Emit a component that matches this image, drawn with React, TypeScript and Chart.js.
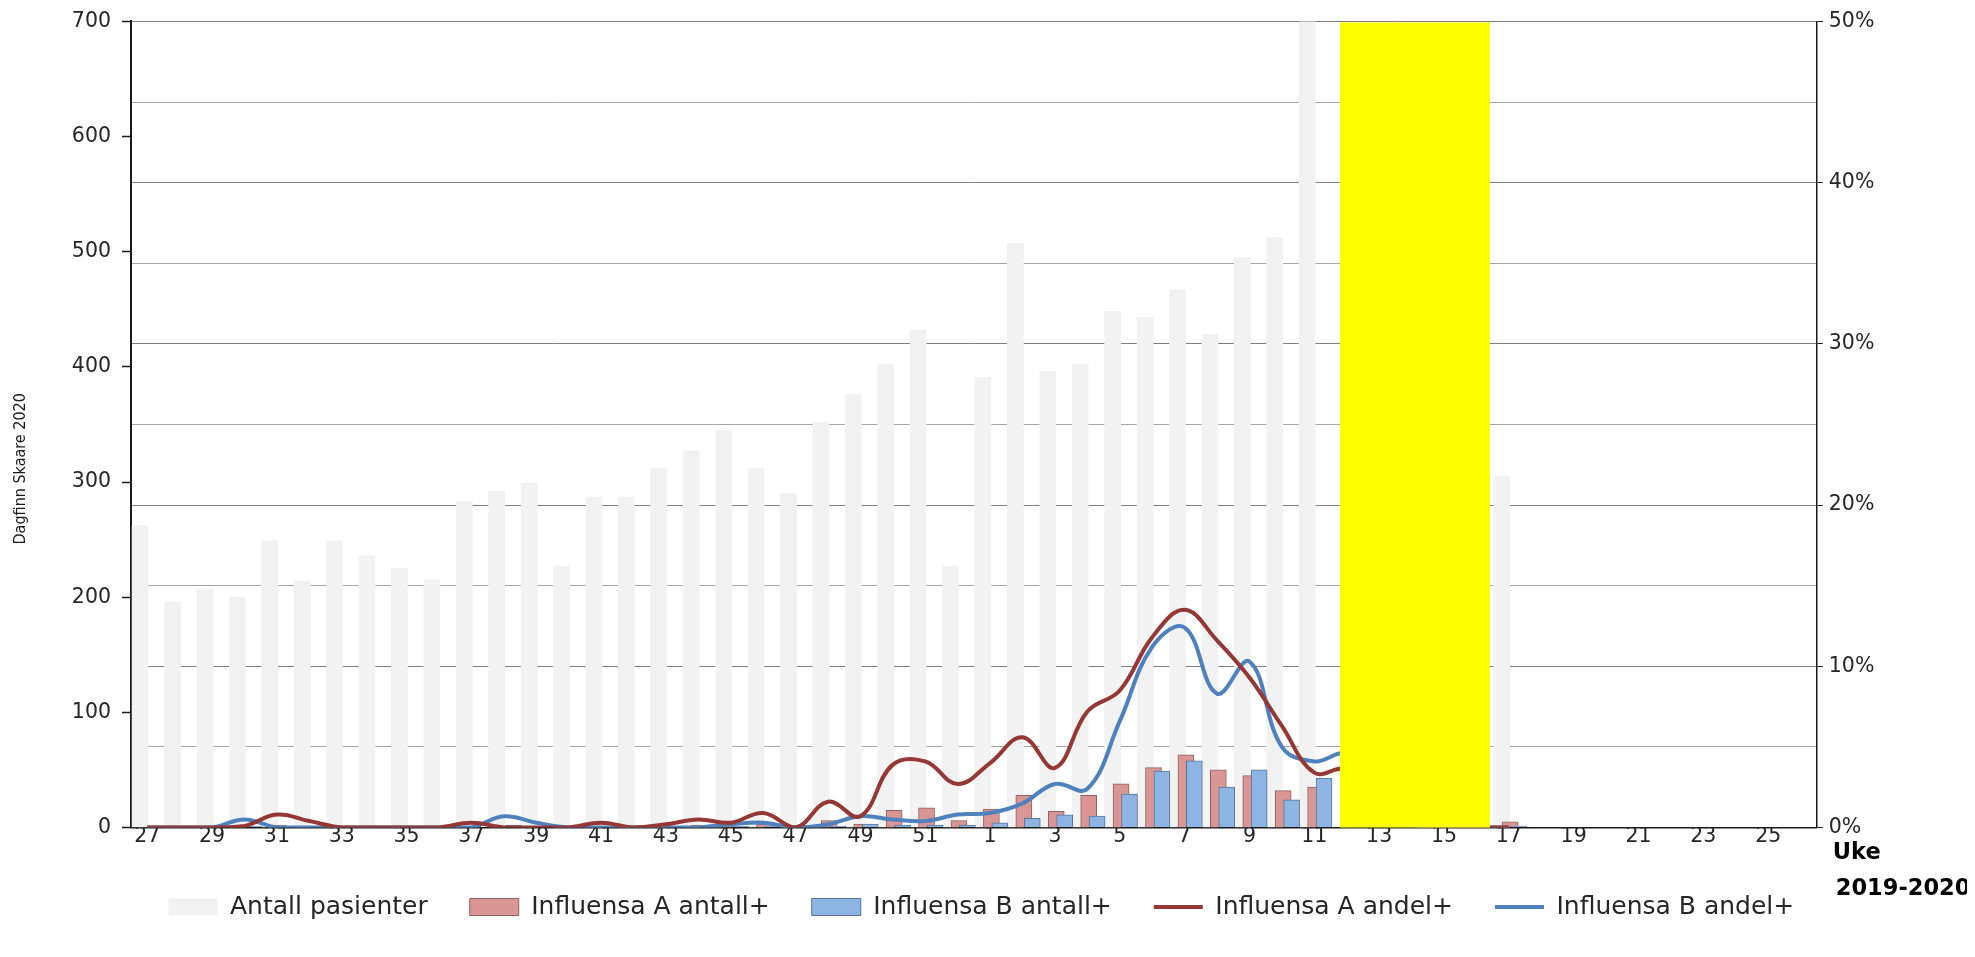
import React, { useEffect, useRef } from 'react';
import { Chart, registerables } from 'chart.js';

Chart.register(...registerables);

const FONT = '"DejaVu Sans", Verdana, sans-serif';
const TEXT = '#262626';

// Categories: week numbers of the 2019-2020 season
const weeks = [
  '27', '28', '29', '30', '31', '32', '33', '34', '35', '36', '37', '38', '39',
  '40', '41', '42', '43', '44', '45', '46', '47', '48', '49', '50', '51', '52',
  '1', '2', '3', '4', '5', '6', '7', '8', '9', '10', '11', '12', '13',
  '14', '15', '16', '17', '18', '19', '20', '21', '22', '23', '24', '25', '26',
];

// Left axis (count)
const antallPasienter = [
  262, 196, 207, 200, 249, 214, 249, 236, 225, 215, 283, 292, 299,
  227, 287, 287, 312, 327, 345, 312, 290, 352, 376, 402, 432, 227,
  391, 507, 396, 402, 448, 443, 467, 428, 495, 512, 1030, null, null,
  null, null, null, 305, null, null, null, null, null, null, null, null, null,
];
const influensaAAntall = [
  0, 0, 0, 0, 2, 1, 0, 0, 0, 0, 1, 0, 0,
  0, 1, 0, 1, 2, 1, 3, 0, 6, 3, 15, 17, 6,
  16, 28, 14, 28, 38, 52, 63, 50, 45, 32, 35, null, null,
  null, null, null, 5, null, null, null, null, null, null, null, null, null,
];
const influensaBAntall = [
  0, 0, 0, 1, 0, 0, 0, 0, 0, 0, 0, 2, 1,
  0, 0, 0, 0, 0, 1, 1, 0, 1, 3, 2, 2, 2,
  4, 8, 11, 10, 29, 49, 58, 35, 50, 24, 43, null, null,
  null, null, null, 1, null, null, null, null, null, null, null, null, null,
];

// Right axis (percent)
const influensaAAndel = [
  0, 0, 0, 0.1, 0.8, 0.4, 0, 0, 0, 0, 0.3, 0, 0,
  0, 0.3, 0, 0.2, 0.5, 0.3, 0.9, 0, 1.6, 0.7, 3.9, 4.1, 2.7,
  4.0, 5.6, 3.7, 7.2, 8.5, 11.8, 13.5, 11.6, 9.3, 6.3, 3.4, 3.6, 1.5,
  0.3, 0, 0, 0, null, null, null, null, null, null, null, null, null,
];
const influensaBAndel = [
  0, 0, 0, 0.5, 0, 0, 0, 0, 0, 0, 0, 0.7, 0.3,
  0, 0, 0, 0, 0, 0.2, 0.3, 0, 0.2, 0.7, 0.5, 0.4, 0.8,
  0.9, 1.5, 2.7, 2.4, 6.6, 11.2, 12.4, 8.3, 10.3, 5.0, 4.1, 4.5, 1.2,
  0.2, 0, 0, 0, null, null, null, null, null, null, null, null, null,
];

const leftMax = 700;
const leftStep = 100;
const rightMax = 50;
const rightStep = 5;
const rightLabelStep = 10;

// Weeks hidden by the yellow box
const maskFromWeek = '12';
const maskToWeek = '16';

// Style: bar offsets inside a category (fraction of category width)
const SHIFT_GRAY = -0.22;
const SHIFT_A = 0.04;
const SHIFT_B = 0.3;

const toPoints = (arr: (number | null)[]) =>
  arr.map((v, i) => ({ x: i, y: v })).filter((p) => p.y !== null);

const shiftedAxis = (shift: number) => {
  const min = -0.5 - shift;
  const max = weeks.length - 0.5 - shift;
  return {
    type: 'linear' as const,
    axis: 'x' as const,
    display: false,
    offset: false,
    bounds: 'data' as const,
    min,
    max,
    grid: { offset: false },
    afterBuildTicks: (s: any) => {
      s.min = min;
      s.max = max;
    },
  };
};

const maskPlugin = {
  id: 'yellowMask',
  afterDatasetsDraw(chart: any) {
    const xs = chart.scales.x;
    const { top, bottom } = chart.chartArea;
    const w = xs.width / weeks.length;
    const i0 = weeks.indexOf(maskFromWeek);
    const i1 = weeks.indexOf(maskToWeek);
    const left = xs.getPixelForValue(i0) - 0.21 * w;
    const right = xs.getPixelForValue(i1) + 0.42 * w;
    const ctx = chart.ctx;
    ctx.save();
    ctx.fillStyle = '#ffff00';
    ctx.fillRect(left, top + 1, right - left, bottom - top - 1);
    ctx.restore();
  },
};

const textPlugin = {
  id: 'extraTexts',
  afterDraw(chart: any) {
    const { ctx, chartArea } = chart;
    ctx.save();
    ctx.fillStyle = '#000';
    ctx.textAlign = 'left';
    ctx.textBaseline = 'middle';
    ctx.font = `bold 22.5px ${FONT}`;
    ctx.fillText('Uke', chartArea.right + 16, chartArea.bottom + 26);
    ctx.fillText('2019-2020', chartArea.right + 19, chartArea.bottom + 62);
    ctx.translate(13, chartArea.top + (chartArea.bottom - chartArea.top) * 0.555);
    ctx.rotate(-Math.PI / 2);
    ctx.font = '16px "Liberation Sans Narrow", "DejaVu Sans Condensed", sans-serif';
    ctx.textAlign = 'center';
    ctx.fillStyle = '#1a1a1a';
    ctx.fillText('Dagfinn Skaare 2020', 0, 0);
    ctx.restore();
  },
};

export default function App() {
  const ref = useRef<HTMLCanvasElement | null>(null);

  useEffect(() => {
    if (!ref.current) return;
    const tickFont = { family: FONT, size: 20.5 };
    const legendFont = { family: FONT, size: 25 };
    const chart = new Chart(ref.current, {
      type: 'bar',
      data: {
        labels: weeks,
        datasets: [
          {
            type: 'bar',
            label: 'Antall pasienter',
            data: toPoints(antallPasienter) as any,
            xAxisID: 'xg',
            yAxisID: 'y',
            backgroundColor: '#f2f2f2',
            borderWidth: 0,
            barThickness: 16,
            grouped: false,
            order: 4,
          },
          {
            type: 'bar',
            label: 'Influensa A antall+',
            data: toPoints(influensaAAntall) as any,
            xAxisID: 'xa',
            yAxisID: 'y',
            backgroundColor: '#da9694',
            borderColor: '#8a6462',
            borderWidth: 1,
            barThickness: 16,
            grouped: false,
            order: 3,
          },
          {
            type: 'bar',
            label: 'Influensa B antall+',
            data: toPoints(influensaBAntall) as any,
            xAxisID: 'xb',
            yAxisID: 'y',
            backgroundColor: '#8db4e2',
            borderColor: '#5b7597',
            borderWidth: 1,
            barThickness: 16,
            grouped: false,
            order: 2,
          },
          {
            type: 'line',
            label: 'Influensa A andel+',
            data: influensaAAndel as any,
            xAxisID: 'x',
            yAxisID: 'y1',
            borderColor: '#953735',
            backgroundColor: '#953735',
            borderWidth: 4,
            pointRadius: 0,
            tension: 0.4,
            fill: false,
            order: 1,
          },
          {
            type: 'line',
            label: 'Influensa B andel+',
            data: influensaBAndel as any,
            xAxisID: 'x',
            yAxisID: 'y1',
            borderColor: '#4f81bd',
            backgroundColor: '#4f81bd',
            borderWidth: 4,
            pointRadius: 0,
            tension: 0.4,
            fill: false,
            order: 1,
          },
        ],
      },
      options: {
        responsive: true,
        maintainAspectRatio: false,
        animation: false,
        layout: { padding: { top: 13.4, right: 20.3, bottom: 19.5, left: 0 } },
        scales: {
          x: {
            type: 'category',
            position: 'bottom',
            offset: true,
            grid: {
              offset: true,
              drawOnChartArea: false,
              drawTicks: false,
            },
            border: { display: true, color: '#1a1a1a', width: 1.5 },
            ticks: {
              autoSkip: false,
              maxRotation: 0,
              minRotation: 0,
              padding: -3,
              font: tickFont,
              color: TEXT,
              callback: (_v: any, i: number) => (i % 2 === 0 ? weeks[i] : ''),
            },
            afterFit: (s: any) => {
              s.height = 25;
            },
          },
          xg: shiftedAxis(SHIFT_GRAY),
          xa: shiftedAxis(SHIFT_A),
          xb: shiftedAxis(SHIFT_B),
          y: {
            type: 'linear',
            position: 'left',
            min: 0,
            max: leftMax,
            ticks: { stepSize: leftStep, font: tickFont, color: TEXT, padding: 11 },
            grid: {
              drawOnChartArea: false,
              drawTicks: true,
              tickLength: 9,
              tickColor: '#1a1a1a',
              tickWidth: 1.5,
            },
            border: { display: true, color: '#1a1a1a', width: 2 },
            afterFit: (s: any) => {
              s.width = 123;
              s.paddingTop = 0;
              s.paddingBottom = 0;
            },
          },
          y1: {
            type: 'linear',
            position: 'right',
            min: 0,
            max: rightMax,
            ticks: {
              stepSize: rightStep,
              font: tickFont,
              color: TEXT,
              padding: 6,
              callback: (v: any) => (Number(v) % rightLabelStep === 0 ? `${v}%` : ''),
            },
            grid: {
              drawOnChartArea: true,
              lineWidth: 1,
              color: (c: any) =>
                c.tick && c.tick.value % rightLabelStep === 0 ? '#7f7f7f' : '#a6a6a6',
              drawTicks: true,
              tickLength: 6,
              tickColor: (c: any) =>
                c.tick && c.tick.value % rightLabelStep === 0 ? '#1a1a1a' : 'rgba(0,0,0,0)',
            },
            border: { display: true, color: '#1a1a1a', width: 1.5 },
            afterFit: (s: any) => {
              s.width = 137.9;
              s.paddingTop = 0;
              s.paddingBottom = 0;
            },
          },
        },
        plugins: {
          tooltip: { enabled: false },
          legend: {
            position: 'bottom',
            labels: {
              usePointStyle: true,
              pointStyleWidth: 49,
              boxHeight: 17,
              padding: 42,
              font: legendFont,
              color: TEXT,
              sort: (a: any, b: any) => a.datasetIndex - b.datasetIndex,
              generateLabels: (ch: any) => {
                const items = (Chart.defaults.plugins.legend.labels as any).generateLabels(ch);
                return items.map((it: any) => ({
                  ...it,
                  pointStyle: ch.data.datasets[it.datasetIndex].type === 'line' ? 'line' : 'rect',
                }));
              },
            },
          },
        },
      } as any,
      plugins: [maskPlugin, textPlugin],
    });
    return () => chart.destroy();
  }, []);

  return (
    <div style={{ position: 'relative', width: 1967, height: 941 }}>
      <canvas ref={ref} />
    </div>
  );
}
